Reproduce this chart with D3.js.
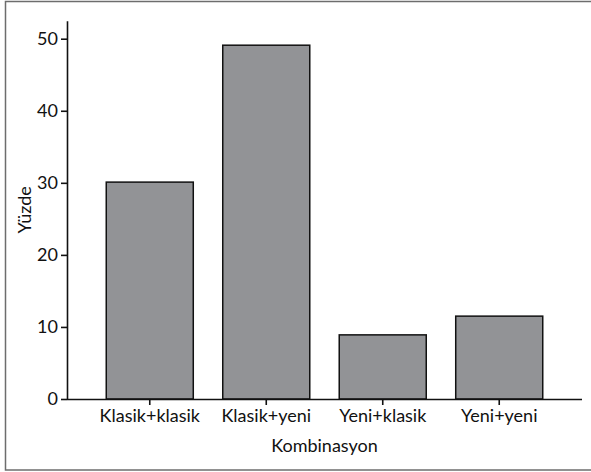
<!DOCTYPE html>
<html><head><meta charset="utf-8">
<script src="https://cdn.jsdelivr.net/npm/d3@7"></script>
<style>body{margin:0;background:#fff}svg{display:block}text{font-family:Lato,sans-serif}</style>
</head><body>
<script>
const categories = ["Klasik+klasik", "Klasik+yeni", "Yeni+klasik", "Yeni+yeni"];
const values = [30.1, 49.1, 8.9, 11.5];
const yTicks = [0, 10, 20, 30, 40, 50];
const xTitle = "Kombinasyon";
const yTitle = "Yüzde";

(function () {
const W = 591, H = 472, FS = "18px", FF = "Lato, sans-serif";
const svg = d3.select("body").append("svg").attr("width", W).attr("height", H);

svg.append("rect").attr("x", 5.5).attr("y", 1.5).attr("width", 600).attr("height", 468.5)
  .attr("fill", "none").attr("stroke", "#6d6d6d").attr("stroke-width", 1.5);

const mL = 67, mR = 582, mT = 20.7, mB = 399;
const x = d3.scaleBand().domain(categories).range([mL, mR]).paddingInner(0.253).paddingOuter(0.337);
const y = d3.scaleLinear().domain([0, 52.5]).range([mB, mT]);

svg.selectAll("rect.bar").data(values).join("rect").attr("class", "bar")
  .attr("x", (d, i) => x(categories[i])).attr("width", x.bandwidth())
  .attr("y", d => y(d)).attr("height", d => y(0) - y(d))
  .attr("fill", "#929396").attr("stroke", "#111").attr("stroke-width", 1.5);

const yAxis = svg.append("g").attr("transform", `translate(${mL},0)`)
  .call(d3.axisLeft(y).tickValues(yTicks).tickSize(6).tickPadding(3).tickSizeOuter(0));
const xAxis = svg.append("g").attr("transform", `translate(0,${mB})`)
  .call(d3.axisBottom(x).tickSize(6).tickPadding(4).tickSizeOuter(0));

[xAxis, yAxis].forEach(g => {
  g.selectAll("path, line").attr("stroke", "#111").attr("stroke-width", 1.6);
  g.selectAll("text").attr("fill", "#111").style("font-size", FS).style("font-family", FF);
});
xAxis.select(".domain").attr("d", `M${mL},0.5H${mR}`);

svg.append("text").attr("x", (mL + mR) / 2).attr("y", 452).attr("text-anchor", "middle")
  .style("font-size", FS).style("font-family", FF).attr("fill", "#111").text(xTitle);
svg.append("text").attr("transform", `translate(31,${(mT + mB) / 2}) rotate(-90)`)
  .attr("text-anchor", "middle").style("font-size", FS).style("font-family", FF).attr("fill", "#111").text(yTitle);
})();
</script>
</body></html>
